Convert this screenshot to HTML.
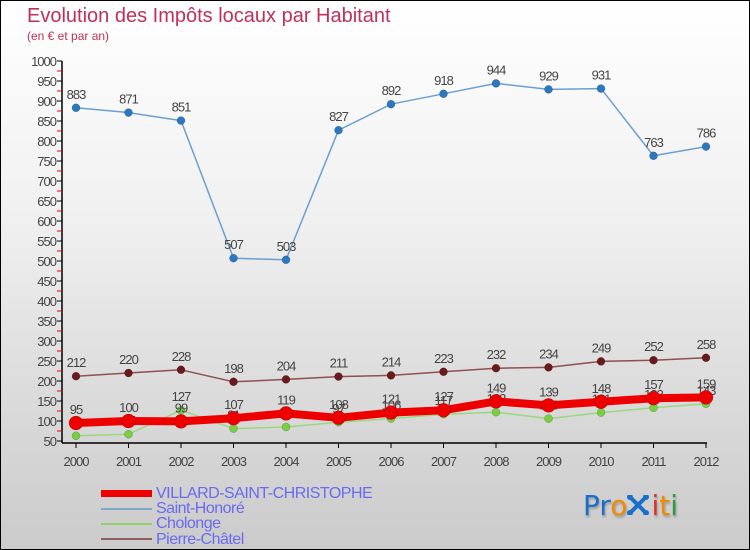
<!DOCTYPE html>
<html><head><meta charset="utf-8"><style>
body{margin:0;}
#wrap{position:relative;width:748px;height:548px;border:1px solid #000;background:linear-gradient(#ffffff 0%,#f0f0f0 40%,#d6d6d6 80%,#cbcbcb 100%);overflow:hidden;font-family:"Liberation Sans",sans-serif;}
.t{position:absolute;color:#c0305a;}
.leg{position:absolute;left:155px;font-size:16px;color:#6a6af0;letter-spacing:-0.5px;line-height:16px;}
</style></head><body>
<div id="wrap">
<div class="t" style="left:26px;top:4px;font-size:20px;">Evolution des Impôts locaux par Habitant</div>
<div class="t" style="left:26px;top:28px;font-size:12px;">(en € et par an)</div>
<svg id="chart" width="748" height="470" style="position:absolute;left:0;top:0"></svg>
<div>
<div style="position:absolute;left:100px;top:489px;width:51px;height:7px;background:#e00"></div>
<div class="leg" style="top:485px">VILLARD-SAINT-CHRISTOPHE</div>
<div style="position:absolute;left:100px;top:507px;width:51px;height:2px;background:#7fa8c8"></div>
<div class="leg" style="top:500px">Saint-Honoré</div>
<div style="position:absolute;left:100px;top:522px;width:51px;height:2px;background:#8ed26e"></div>
<div class="leg" style="top:515px">Cholonge</div>
<div style="position:absolute;left:100px;top:537px;width:51px;height:2px;background:#8e6060"></div>
<div class="leg" style="top:531px">Pierre-Châtel</div>
</div>
<div style="position:absolute;left:582px;top:488px;font-size:28px;font-family:'DejaVu Sans',sans-serif;letter-spacing:0px;text-shadow:1px 2px 2px #999;">
<span style="color:#1a6fc8">Pr</span><span style="color:#f08a00">o</span><span style="color:#1a6fc8;display:inline-block;width:24px;"><svg width="22" height="20" viewBox="0 0 22 20"><path d="M3 2L19 18M19 2L3 18" stroke="#1a6fc8" stroke-width="4" stroke-linecap="round"/><circle cx="3" cy="2" r="3" fill="#1a6fc8"/><circle cx="19" cy="2" r="3" fill="#1a6fc8"/><circle cx="3" cy="18" r="3" fill="#1a6fc8"/><circle cx="19" cy="18" r="3" fill="#1a6fc8"/></svg></span><span style="color:#e03020">i</span><span style="color:#f08a00">t</span><span style="color:#2a9a3a">i</span>
</div>
</div>
<script>
const years=[2000,2001,2002,2003,2004,2005,2006,2007,2008,2009,2010,2011,2012];
const yTicks=[50,100,150,200,250,300,350,400,450,500,550,600,650,700,750,800,850,900,950,1000];
const saintHonore=[883,871,851,507,503,827,892,918,944,929,931,763,786];
const pierreChatel=[212,220,228,198,204,211,214,223,232,234,249,252,258];
const cholonge=[63,67,127,81,85,97,106,117,122,106,121,133,143];
const villard=[95,100,99,107,119,108,121,127,149,139,148,157,159];
const svg=document.getElementById('chart');const NS='http://www.w3.org/2000/svg';
function X(i){return 75+i*52.5;}
function Y(v){return 60+(1000-v)*0.4;}
function mk(t,a){const e=document.createElementNS(NS,t);for(const k in a)e.setAttribute(k,a[k]);svg.appendChild(e);return e;}
let e=mk('line',{x1:61,y1:60,x2:61,y2:442,stroke:'#000','stroke-width':1.5});


e=mk('line',{x1:61,y1:442,x2:706,y2:442,stroke:'#000','stroke-width':1.5});


yTicks.forEach(v=>{const y=Y(v);
 e=mk('line',{x1:56,y1:y,x2:61,y2:y,stroke:'#000'});
 
 
 if(v<1000){e=mk('line',{x1:56,y1:Y(v+25),x2:61,y2:Y(v+25),stroke:'#e00'});
 
 }
 e=mk('text',{x:55,y:y+5,'text-anchor':'end','font-size':13,fill:'#444','letter-spacing':'-1'});e.textContent=v;
 
 
});
years.forEach((yr,i)=>{
 e=mk('line',{x1:X(i),y1:442,x2:X(i),y2:447,stroke:'#000'});
 
 
 e=mk('text',{x:X(i),y:465,'text-anchor':'middle','font-size':13,fill:'#444','letter-spacing':'-1'});e.textContent=yr;
 
 
});
function series(name,data,color,lw,r,dot){
 e=mk('polyline',{points:data.map((v,i)=>X(i)+','+Y(v)).join(' '),fill:'none',stroke:color,'stroke-width':lw,'stroke-linejoin':'round'});
 
 
 data.forEach((v,i)=>{
  e=mk('circle',{cx:X(i),cy:Y(v),r:r,fill:dot,stroke:'rgba(0,0,0,0.3)','stroke-width':0.5});
  
  
  e=mk('text',{x:X(i),y:Y(v)-9,'text-anchor':'middle','font-size':13,fill:'#444','letter-spacing':'-1'});e.textContent=v;
  
  
 });
}
series('pierre-chatel',pierreChatel,'#8e5050',1.5,4,'#6a1a1a');
series('saint-honore',saintHonore,'#6aa0d0',1.5,4,'#2a78c0');
series('cholonge',cholonge,'#9ad880',1.5,4,'#78d040');
series('villard',villard,'#ee0000',8,7,'#ee0000');
</script>
</body></html>
